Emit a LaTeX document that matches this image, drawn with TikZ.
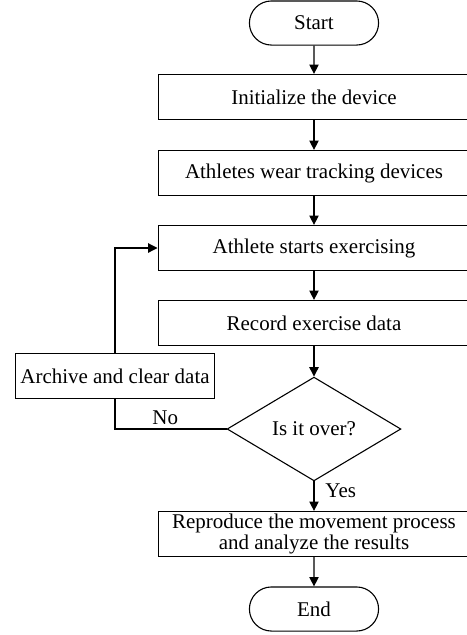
\documentclass[tikz,border=0pt]{standalone}
\usepackage{fontspec}
\setmainfont{Liberation Serif}
\usetikzlibrary{shapes.geometric,shapes.misc,arrows.meta}

\tikzset{
  base/.style={draw,line width=0.6pt,font=\fontsize{11.5}{10}\selectfont,inner sep=1pt},
  term/.style={base,rounded rectangle,minimum width=2.56cm,minimum height=0.85cm},
  proc/.style={base,rectangle,minimum width=6.01cm,minimum height=0.87cm,align=center},
  side/.style={base,rectangle,minimum width=3.85cm,minimum height=0.87cm},
  test/.style={base,diamond,minimum width=3.35cm,minimum height=2.0cm,aspect=1.67,inner sep=0pt},
  flow/.style={line width=0.6pt,-{Triangle[length=1.8mm,width=1.8mm]}},
  lbl/.style={font=\fontsize{11.5}{10}\selectfont,inner sep=2pt}
}

\begin{document}
\begin{tikzpicture}[x=0.01927cm,y=-0.01927cm]
  \useasboundingbox (0,0) rectangle (467,635);
  % main column of steps, centred on x=314 (pixel grid)
  \node[term] (start) at (314,23) {Start};
  \node[proc] (init) at (314,97) {Initialize the device};
  \node[proc] (wear) at (314,173) {Athletes wear tracking devices};
  \node[proc] (exer) at (314,248) {Athlete starts exercising};
  \node[proc] (rec) at (314,323) {Record exercise data};
  \node[test] (over) at (314,429) {\raisebox{-2pt}{Is it over?}};
  \node[proc] (repro) at (314,534) {Reproduce the movement process\\and analyze the results};
  \node[term] (stop) at (314,609) {End};
  % side branch
  \node[side] (arch) at (115,376) {Archive and clear data};

  \draw[flow] (start) -- (init);
  \draw[flow] (init) -- (wear);
  \draw[flow] (wear) -- (exer);
  \draw[flow] (exer) -- (rec);
  \draw[flow] (rec) -- (over);
  \draw[flow] (over) -- node[lbl,right,pos=0.3,xshift=4pt]{Yes} (repro);
  \draw[flow] (repro) -- (stop);
  % loop back when not finished
  \draw[line width=0.6pt] (over.west) -- node[lbl,above,pos=0.55]{No} (over.west -| arch.south) -- (arch.south);
  \draw[flow] (arch.north) |- (exer.west);
\end{tikzpicture}
\end{document}
